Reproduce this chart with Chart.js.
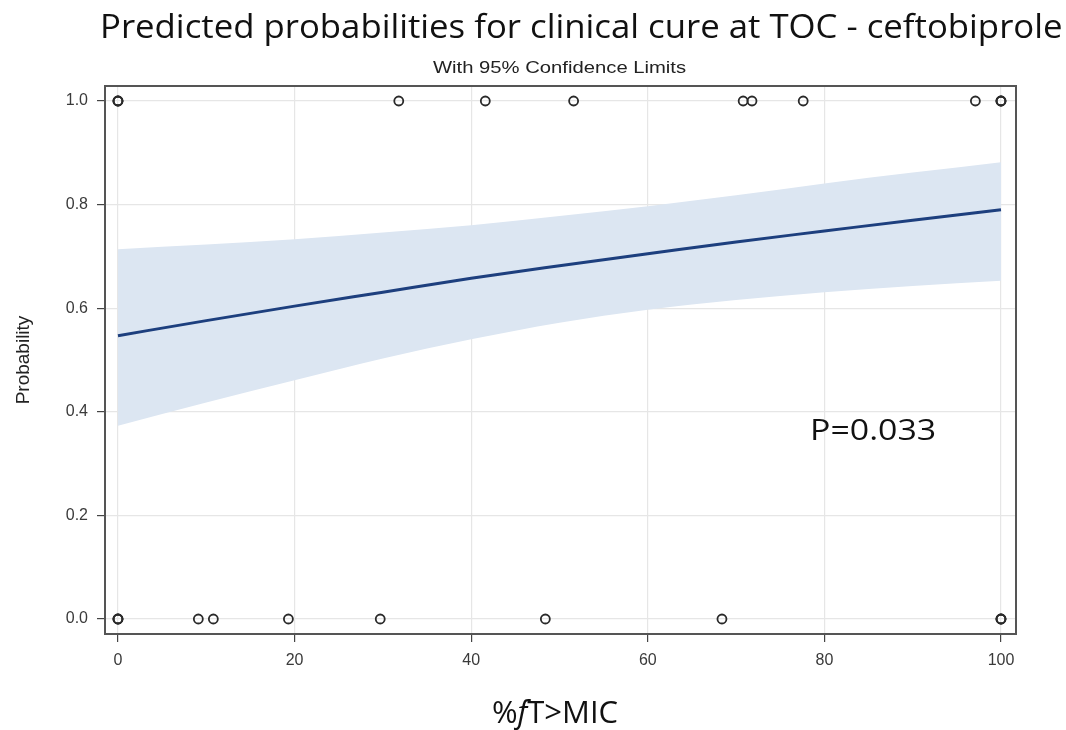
<!DOCTYPE html>
<html>
<head>
<meta charset="utf-8">
<script src="https://cdn.jsdelivr.net/npm/chart.js@4/dist/chart.umd.min.js"></script>
<style>
    body { margin: 0; background: #fff; }
    .wrap { position: relative; width: 1066px; height: 730px; }
    .wrap canvas { position: absolute; left: 0; top: 0; }
    .txt { position: absolute; white-space: nowrap; color: #111; }
    .title { left: 100px; top: 4px; font: 32px "Open Sans", sans-serif; transform-origin: 0 0; }
    .subtitle { left: 433px; top: 59px; font: 16px "Liberation Sans", Arial, sans-serif; color: #222; transform-origin: 0 0; }
    .pval { left: 810px; top: 408px; font: 30px "Open Sans", sans-serif; transform-origin: 0 0; transform: scaleX(1.13); }
    .xlabel { left: 0; width: 1110px; text-align: center; top: 690px; font: 31px "Open Sans", sans-serif; }
</style>
</head>
<body>
<div class="wrap">
    <canvas id="probGraphic" width="1066" height="730"></canvas>
    <div class="txt title" id="mainTitle">Predicted probabilities for clinical cure at TOC - ceftobiprole</div>
    <div class="txt subtitle" id="subTitle">With 95% Confidence Limits</div>
    <div class="txt pval">P=0.033</div>
    <div class="txt xlabel">%<i>f</i>T&gt;MIC</div>
</div>
<script>
/* Data */
let cureX = [0, 0, 0, 31.8, 41.6, 51.6, 70.8, 71.8, 77.6, 97.1, 100, 100, 100];
let failX = [0, 0, 0, 9.1, 10.8, 19.3, 29.7, 48.4, 68.4, 100, 100, 100];

let predX = [0, 10, 20, 30, 40, 50, 60, 70, 80, 90, 100];
let predY = [0.547, 0.576, 0.604, 0.631, 0.658, 0.682, 0.705, 0.728, 0.749, 0.770, 0.790];
let upperY = [0.714, 0.723, 0.733, 0.746, 0.760, 0.778, 0.797, 0.818, 0.841, 0.862, 0.882];
let lowerY = [0.373, 0.418, 0.461, 0.503, 0.540, 0.572, 0.597, 0.616, 0.631, 0.643, 0.653];

let xTicks = [0, 20, 40, 60, 80, 100];
let yTicks = [0, 0.2, 0.4, 0.6, 0.8, 1.0];

function ToPoints(xs, ys) {
    let points = [];
    for (let i = 0; i < xs.length; i++) {
        points.push({ x: xs[i], y: ys[i] });
    }
    return points;
}

function ToFlat(xs, yValue) {
    let points = [];
    for (let i = 0; i < xs.length; i++) {
        points.push({ x: xs[i], y: yValue });
    }
    return points;
}

// squeeze the titles to the width of the original
function FitWidth(id, width) {
    let el = document.getElementById(id);
    el.style.transform = 'scaleX(' + (width / el.offsetWidth) + ')';
}
FitWidth('mainTitle', 962);
FitWidth('subTitle', 253);

let frame = {
    id: 'frame',
    afterDatasetsDraw(chart) {
        let a = chart.chartArea;
        let ctx = chart.ctx;
        ctx.save();
        ctx.strokeStyle = '#555';
        ctx.lineWidth = 2;
        ctx.strokeRect(a.left, a.top, a.right - a.left, a.bottom - a.top);
        ctx.restore();
    }
};

let tickFont = { family: '"Liberation Sans", Arial, sans-serif', size: 16 };

let ctx = document.getElementById('probGraphic').getContext('2d');
let graphic = new Chart(ctx, {
    type: 'scatter',
    data: {
        datasets: [
            {
                label: 'Cure',
                data: ToFlat(cureX, 1),
                pointRadius: 4.5,
                pointBorderWidth: 1.8,
                pointBorderColor: '#2a2a2a',
                pointBackgroundColor: 'rgba(255,255,255,0)',
                order: 0
            },
            {
                label: 'No cure',
                data: ToFlat(failX, 0),
                pointRadius: 4.5,
                pointBorderWidth: 1.8,
                pointBorderColor: '#2a2a2a',
                pointBackgroundColor: 'rgba(255,255,255,0)',
                order: 0
            },
            {
                label: 'Predicted',
                data: ToPoints(predX, predY),
                showLine: true,
                borderColor: '#1d3f7e',
                borderWidth: 3,
                pointRadius: 0,
                cubicInterpolationMode: 'monotone',
                order: 1
            },
            {
                label: 'Upper',
                data: ToPoints(predX, upperY),
                showLine: true,
                borderWidth: 0,
                borderColor: 'rgba(0,0,0,0)',
                backgroundColor: '#dce6f2',
                pointRadius: 0,
                cubicInterpolationMode: 'monotone',
                fill: '+1',
                order: 2
            },
            {
                label: 'Lower',
                data: ToPoints(predX, lowerY),
                showLine: true,
                borderWidth: 0,
                borderColor: 'rgba(0,0,0,0)',
                pointRadius: 0,
                cubicInterpolationMode: 'monotone',
                order: 3
            }
        ]
    },
    options: {
        responsive: false,
        animation: false,
        layout: { padding: { top: 86, right: 50, left: 0, bottom: 0 } },
        plugins: {
            legend: { display: false },
            tooltip: { enabled: false }
        },
        scales: {
            x: {
                type: 'linear',
                min: -1.47,
                max: 101.7,
                afterBuildTicks: function (s) { s.ticks = xTicks.map(v => ({ value: v })); },
                afterFit: function (s) { s.height = 96; },
                grid: { color: '#e6e6e6', lineWidth: 1.2, tickColor: '#444', tickLength: 8, drawTicks: true },
                border: { display: false },
                ticks: { font: tickFont, color: '#3a3a3a', padding: 9, maxRotation: 0 }
            },
            y: {
                type: 'linear',
                min: -0.029,
                max: 1.029,
                afterBuildTicks: function (s) { s.ticks = yTicks.map(v => ({ value: v })); },
                afterFit: function (s) { s.width = 105; },
                grid: { color: '#e6e6e6', lineWidth: 1.2, tickColor: '#444', tickLength: 8, drawTicks: true },
                border: { display: false },
                ticks: { font: tickFont, color: '#3a3a3a', padding: 9, callback: v => v.toFixed(1) },
                title: { display: true, text: 'Probability', font: { family: '"Liberation Sans", Arial, sans-serif', size: 19 }, color: '#222', padding: { top: 12, bottom: 0 } }
            }
        }
    },
    plugins: [frame]
});
</script>
</body>
</html>
